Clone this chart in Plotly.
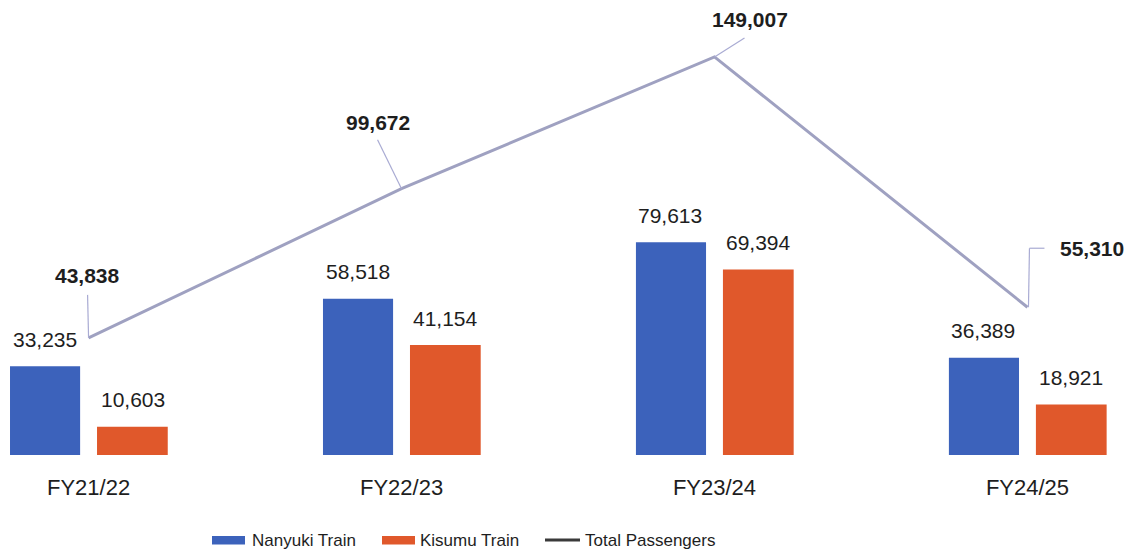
import plotly.graph_objects as go

# Passenger numbers per financial year
years = ["FY21/22", "FY22/23", "FY23/24", "FY24/25"]
nanyuki = [33235, 58518, 79613, 36389]
kisumu = [10603, 41154, 69394, 18921]
totals = [43838, 99672, 149007, 55310]
series_names = ["Nanyuki Train", "Kisumu Train", "Total Passengers"]

W, H = 1142, 554
MARGIN_B = 99
PLOT_H = H - MARGIN_B

BLUE = "#3c62bb"
ORANGE = "#e0582b"
LINE = "#9fa1c1"
LEADER = "#a9abd3"
TEXT = "#1e1e1e"
FONT = "Liberation Sans, Arial, sans-serif"

fig = go.Figure()

fig.add_trace(go.Bar(
    x=years, y=nanyuki, name=series_names[0],
    marker=dict(color=BLUE, line=dict(width=0)),
    width=0.224, offset=-0.251, showlegend=False,
))
fig.add_trace(go.Bar(
    x=years, y=kisumu, name=series_names[1],
    marker=dict(color=ORANGE, line=dict(width=0)),
    width=0.226, offset=0.027, showlegend=False,
))
fig.add_trace(go.Scatter(
    x=years, y=totals, name=series_names[2], mode="lines",
    line=dict(color=LINE, width=3), showlegend=False,
))

annotations = []
shapes = []

# value labels above each bar
for yr, nv, kv in zip(years, nanyuki, kisumu):
    for val, dx in ((nv, -44), (kv, 44)):
        annotations.append(dict(
            x=yr, y=val, xref="x", yref="y", text=f"{val:,}",
            showarrow=False, xshift=dx, yshift=27, yanchor="middle",
            font=dict(family=FONT, size=21, color=TEXT),
        ))

# callout placement for the total labels (pixel offsets from the point)
label_shift = [(-1, 62), (-24, 66), (36, 37), (65, 59)]
leader_paths = [
    [(0, 0), (-1, 43)],
    [(0, 0), (-24, 49)],
    [(0, 0), (30, 19)],
    [(1, 0), (2, 59), (17, 59)],
]
for yr, tv, (dx, dy), pts in zip(years, totals, label_shift, leader_paths):
    annotations.append(dict(
        x=yr, y=tv, xref="x", yref="y", text=f"<b>{tv:,}</b>",
        showarrow=False, xshift=dx, yshift=dy, yanchor="middle",
        font=dict(family=FONT, size=21, color=TEXT),
    ))
    for (x0, y0), (x1, y1) in zip(pts[:-1], pts[1:]):
        shapes.append(dict(
            type="line", xref="x", yref="y",
            xsizemode="pixel", ysizemode="pixel",
            xanchor=yr, yanchor=tv,
            x0=x0, x1=x1, y0=y0, y1=y1,
            line=dict(color=LEADER, width=1.2),
        ))


def px_x(p):
    return p / W


def px_y(p):
    return (PLOT_H - p) / PLOT_H


# legend drawn below the categories
legend_y = 540
swatches = [(212, 245, BLUE, "rect"), (382, 415, ORANGE, "rect"), (545, 580, "#3a3a3a", "line")]
label_x = [250, 418, 583]
for (x0, x1, col, kind), name, lx in zip(swatches, series_names, label_x):
    if kind == "rect":
        shapes.append(dict(
            type="rect", xref="paper", yref="paper",
            x0=px_x(x0), x1=px_x(x1), y0=px_y(legend_y + 4.5), y1=px_y(legend_y - 4),
            fillcolor=col, line=dict(width=0),
        ))
    else:
        shapes.append(dict(
            type="line", xref="paper", yref="paper",
            x0=px_x(x0), x1=px_x(x1), y0=px_y(legend_y), y1=px_y(legend_y),
            line=dict(color=col, width=3),
        ))
    annotations.append(dict(
        x=px_x(lx), y=px_y(legend_y), xref="paper", yref="paper",
        text=name, showarrow=False, xanchor="left", yanchor="middle",
        font=dict(family=FONT, size=17, color=TEXT),
    ))

fig.update_layout(
    width=W, height=H,
    margin=dict(l=0, r=0, t=0, b=MARGIN_B, pad=0),
    paper_bgcolor="white", plot_bgcolor="white",
    barmode="overlay",
    showlegend=False,
    xaxis=dict(
        type="category", categoryorder="array", categoryarray=years,
        range=[-0.283, 3.366], showgrid=False, zeroline=False, showline=False,
        ticks="", ticklabelstandoff=17,
        tickfont=dict(family=FONT, size=22, color=TEXT),
        fixedrange=True,
    ),
    yaxis=dict(range=[0, 170300], visible=False, fixedrange=True),
    annotations=annotations,
    shapes=shapes,
)

fig.write_html("out.html")
